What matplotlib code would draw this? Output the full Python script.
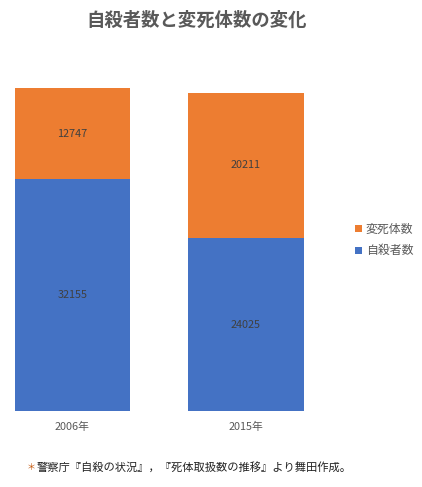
import numpy as np
import matplotlib.pyplot as plt

plt.rcParams['font.family'] = ['Noto Sans CJK JP', 'DejaVu Sans']

# data
years = ['2006年', '2015年']
suicides = [32155, 24025]
unnatural = [12747, 20211]

W, H = 422, 487
fig = plt.figure(figsize=(W / 100, H / 100), dpi=100)

# plot area in pixels: left 5, right 314, top 51, bottom 411
ax = fig.add_axes([5 / W, 1 - 411 / H, (314 - 5) / W, (411 - 51) / H])

x = np.arange(len(years))
blue = '#4472C4'
orange = '#ED7D31'
b1 = ax.bar(x, suicides, width=0.663, color=blue, label='自殺者数')
b2 = ax.bar(x, unnatural, width=0.663, bottom=suicides, color=orange, label='変死体数')

for i in range(len(years)):
    ax.text(x[i], suicides[i] / 2, str(suicides[i]), ha='center', va='center',
            fontsize=7.8, color='#404040')
    ax.text(x[i], suicides[i] + unnatural[i] / 2, str(unnatural[i]), ha='center',
            va='center', fontsize=7.8, color='#404040')

ax.set_xlim(-0.389, 1.392)
ax.set_ylim(0, 50000)
ax.set_xticks(x)
ax.set_xticklabels(years, fontsize=7.8, color='#595959')
ax.tick_params(axis='x', length=0, pad=8)
ax.set_yticks([])
for s in ax.spines.values():
    s.set_visible(False)

# legend
leg = ax.legend(handles=[b2, b1], loc='center left', bbox_to_anchor=(1.133, 0.475),
                frameon=False, fontsize=8.6, handlelength=0.55, handleheight=0.55,
                handletextpad=0.35, labelspacing=0.75, borderpad=0, borderaxespad=0)
for t in leg.get_texts():
    t.set_color('#595959')

fig.text(197 / W, 1 - 20 / H, '自殺者数と変死体数の変化', ha='center', va='center',
         fontsize=13.2, fontweight='bold', color='#595959')

fig.text(27 / W, 1 - 467 / H, '＊', ha='left', va='center', fontsize=6.5, color='#C55A11')
fig.text(37 / W, 1 - 467 / H, '警察庁『自殺の状況』，『死体取扱数の推移』より舞田作成。',
         ha='left', va='center', fontsize=8.1, color='#222222')

fig.savefig('out.png', dpi=100)
